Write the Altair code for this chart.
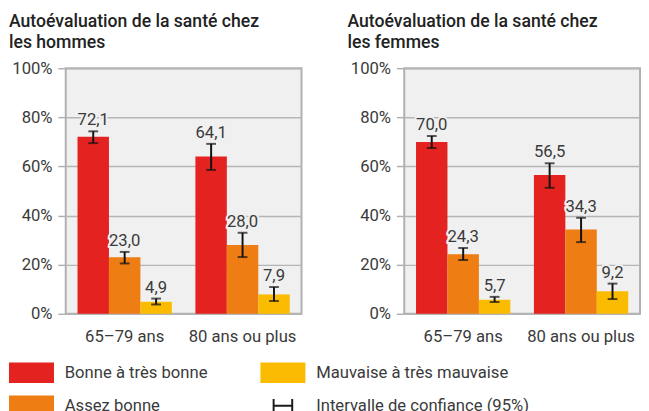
import altair as alt
import pandas as pd

# ---------------- data ----------------
panels = ["hommes", "femmes"]
panel_titles = [
    ["Autoévaluation de la santé chez", "les hommes"],
    ["Autoévaluation de la santé chez", "les femmes"],
]
ages = ["65–79 ans", "80 ans ou plus"]
categories = ["Bonne à très bonne", "Assez bonne", "Mauvaise à très mauvaise"]
ci_label = "Intervalle de confiance (95%)"

# [age][category]
hommes_values = [[72.1, 23.0, 4.9], [64.1, 28.0, 7.9]]
hommes_low = [[69.5, 20.5, 3.8], [58.6, 23.1, 5.2]]
hommes_high = [[74.3, 25.2, 6.2], [69.2, 33.0, 10.9]]
femmes_values = [[70.0, 24.3, 5.7], [56.5, 34.3, 9.2]]
femmes_low = [[67.5, 21.9, 4.8], [51.3, 29.2, 6.0]]
femmes_high = [[72.4, 26.8, 6.9], [61.3, 39.1, 12.3]]

colors = ["#e42320", "#ee7d13", "#fbbb00", "#1a1a1a"]
legend_domain = categories + [ci_label]

# ---------------- table ----------------
rows = []
for pname, vals, lows, highs in [
    ("hommes", hommes_values, hommes_low, hommes_high),
    ("femmes", femmes_values, femmes_low, femmes_high),
]:
    for ai, age in enumerate(ages):
        for ci, cat in enumerate(categories):
            v = vals[ai][ci]
            rows.append({
                "panel": pname, "age": age, "cat": cat, "value": v,
                "lo": lows[ai][ci], "hi": highs[ai][ci],
                "label": f"{v:.1f}".replace(".", ","),
            })
df = pd.DataFrame(rows)

FONT = "Roboto"
FS = 17
TXT = "#3a3a3a"
RECT_PATH = "M-1,-0.4565H1V0.4565H-1Z"
H_PATH = ("M-0.4565,-0.304H-0.37V-0.0435H0.37V-0.304H0.4565V0.304H0.37V0.0435"
          "H-0.37V0.304H-0.4565Z")

legend = alt.Legend(
    title=None, orient="none", legendX=-58, legendY=288, columns=2,
    symbolType={"expr": f"datum.value == '{ci_label}' ? '{H_PATH}' : '{RECT_PATH}'"},
    symbolSize=2116, symbolStrokeWidth=0, symbolOpacity=1,
    labelFont=FONT, labelFontSize=FS, labelFontWeight=400, labelColor=TXT,
    labelOffset=11, rowPadding=-8, columnPadding=54, labelLimit=400,
)


def make_panel(pname, title_lines):
    base = alt.Chart(df).transform_filter(alt.datum.panel == pname)
    x = alt.X(
        "age:N", sort=ages,
        scale=alt.Scale(domain=ages, paddingInner=0.2, paddingOuter=0.1),
        axis=alt.Axis(title=None, ticks=False, domain=False, labelAngle=0,
                      labelPadding=15, grid=False),
    )
    xo = alt.XOffset("cat:N", scale=alt.Scale(domain=categories, paddingInner=0, paddingOuter=0))
    yscale = alt.Scale(domain=[0, 100], nice=False)
    yaxis = alt.Axis(
        title=None, values=[0, 20, 40, 60, 80, 100],
        labelExpr="datum.value + '%'", tickSize=8, labelPadding=6,
        minExtent=58, maxExtent=58, domain=False, grid=True,
    )
    bars = base.mark_bar().encode(
        x=x, xOffset=xo,
        y=alt.Y("value:Q", scale=yscale, axis=yaxis),
        color=alt.Color("cat:N", scale=alt.Scale(domain=legend_domain, range=colors), legend=legend),
    )
    halo = base.mark_text(
        baseline="bottom", dy=-2, fontSize=FS, font=FONT, fontWeight=400,
        fill="#f0f0f0", stroke="#f0f0f0", strokeWidth=4,
    ).encode(x=x, xOffset=xo, y=alt.Y("hi:Q", scale=yscale, axis=yaxis), text="label:N")
    text = base.mark_text(
        baseline="bottom", dy=-2, fontSize=FS, font=FONT, fontWeight=400, color=TXT,
    ).encode(x=x, xOffset=xo, y=alt.Y("hi:Q", scale=yscale, axis=yaxis), text="label:N")
    rule = base.mark_rule(color="#111111", strokeWidth=2).encode(
        x=x, xOffset=xo, y=alt.Y("lo:Q", scale=yscale, axis=yaxis), y2="hi:Q",
    )
    cap_lo = base.mark_tick(color="#111111", thickness=2, size=10, orient="horizontal").encode(
        x=x, xOffset=xo, y=alt.Y("lo:Q", scale=yscale, axis=yaxis),
    )
    cap_hi = base.mark_tick(color="#111111", thickness=2, size=10, orient="horizontal").encode(
        x=x, xOffset=xo, y=alt.Y("hi:Q", scale=yscale, axis=yaxis),
    )
    return alt.layer(bars, halo, text, rule, cap_lo, cap_hi).properties(
        width=241, height=251,
        title=alt.TitleParams(
            text=title_lines, anchor="start", frame="bounds", fontSize=18,
            fontWeight=500, font=FONT, color="#222222", lineHeight=21, offset=8,
        ),
    )


chart = alt.hconcat(
    make_panel(panels[0], panel_titles[0]),
    make_panel(panels[1], panel_titles[1]),
    spacing=45,
).resolve_scale(color="shared").resolve_legend(color="shared").properties(
    padding=0, background="white",
).configure_view(
    stroke="#b0b0b0", strokeWidth=2, fill="#f0f0f0",
).configure_axis(
    labelFont=FONT, labelFontSize=FS, labelFontWeight=400, labelColor=TXT,
    gridColor="#b5b5b5", gridWidth=1.5, tickColor="#b0b0b0", tickWidth=1.5,
)

chart.save("out.html", embed_options={"renderer": "svg", "actions": False})
